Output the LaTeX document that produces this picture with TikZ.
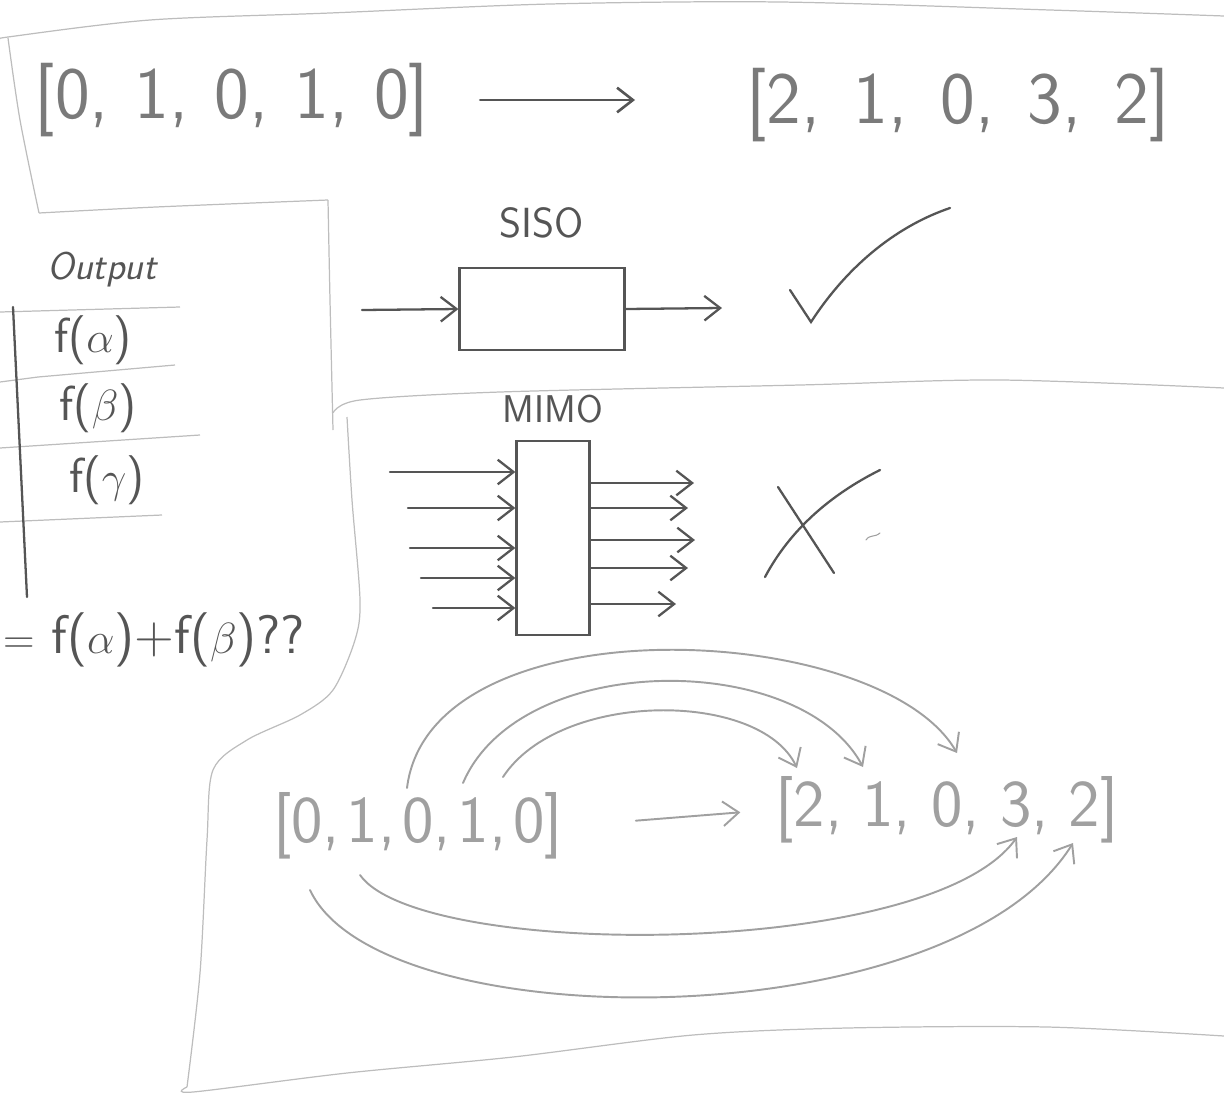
\documentclass[tikz,border=0pt]{standalone}
\usepackage{amsmath}
\usepackage{amssymb}
\usetikzlibrary{positioning,arrows.meta}
\definecolor{pencil}{HTML}{555555}
\definecolor{midpencil}{HTML}{7A7A7A}
\definecolor{lightpencil}{HTML}{A0A0A0}
\definecolor{edgegray}{HTML}{BDBDBD}
\newcommand{\gp}{\hspace{0.35em}}
\newcommand{\gpw}{\hspace{0.45em}}
\newcommand{\gpn}{\hspace{0.1em}}
\newcommand{\gpm}{\hspace{0.3em}}

\begin{document}
\begin{tikzpicture}[x=0.02cm, y=-0.02cm,
    pen/.style={line width=1.3pt, draw=pencil, line cap=round},
    faint/.style={line width=1.1pt, draw=lightpencil, line cap=round},
    edge/.style={line width=0.7pt, draw=edgegray},
    arr/.style={-{Straight Barb[length=9pt,width=14pt]}},
    blockbox/.style={draw=pencil, line width=1.3pt, inner sep=0pt},
    hand/.style={font=\sffamily\fontsize{42}{48}\selectfont, text=midpencil},
    smallhand/.style={font=\sffamily\fontsize{38}{44}\selectfont, text=lightpencil},
    tablehand/.style={font=\sffamily\fontsize{28}{32}\selectfont, text=pencil}]
\useasboundingbox (0,0) rectangle (1224,1096);

% Paper edges
\draw[edge] plot[smooth] coordinates {(0,40) (8,37) (150,20) (330,13) (550,4) (780,2) (1050,10) (1224,16)};
\draw[edge] plot[smooth] coordinates {(8,38) (20,120) (39,213)};
\draw[edge] plot[smooth] coordinates {(39,213) (156,207) (328,200)};
\draw[edge] plot[smooth] coordinates {(328,200) (330,300) (333,430)};
\draw[edge] plot[smooth] coordinates {(333,413) (360,400) (500,392) (800,385) (1000,380) (1224,388)};
\draw[edge] plot[smooth] coordinates {(347,417) (352,500) (360,600) (355,640) (333,690) (300,715) (247,740) (213,770) (207,840) (200,973) (187,1087)};
\draw[edge] plot[smooth] coordinates {(187,1087) (193,1092) (347,1073) (513,1057) (693,1035) (847,1028) (1047,1027) (1224,1036)};

% Top panel
\node[hand] (topin) at (232,100) {[0,\gp 1,\gp 0,\gp 1,\gp 0]};
\node[hand] (topout) at (958,105) {[2,\gpw 1,\gpw 0,\gpw 3,\gpw 2]};
\draw[pen, line width=1.5pt, arr, shorten <=0.9cm, shorten >=2.1cm] (topin.east) -- (topin.east -| topout.west);

% Output table
\node[tablehand, font=\sffamily\itshape\fontsize{22}{26}\selectfont] (outhead) at (102,270) {Output};
\node[tablehand] (fa) at (93,340) {f($\alpha$)};
\node[tablehand] (fb) at (98,408) {f($\beta$)};
\node[tablehand] (fc) at (107,480) {f($\gamma$)};
\draw[edge] (0,312) -- (180,307);
\draw[edge] (0,382) -- (38,377) -- (175,365);
\draw[edge] (0,448) -- (200,435);
\draw[edge] (0,522) -- (162,515);
\draw[pen] (13,307) -- (27,597);
\node[tablehand, font=\sffamily\fontsize{31}{36}\selectfont, anchor=west, inner sep=1pt] (sumq) at (1,640) {$=$ f($\alpha$)+f($\beta$)??};

% SISO
\node[blockbox, minimum width=3.3cm, minimum height=1.64cm] (siso) at (542,309) {};
\node[above=0.44cm of siso, font=\sffamily\fontsize{24}{28}\selectfont, text=pencil] (sisolabel) {SISO};
\coordinate (sisoin) at (362,310);
\coordinate (sisoout) at (722,308);
\draw[pen, arr] (sisoin) -- (siso.west);
\draw[pen, arr] (siso.east) -- (sisoout);
% check mark
\draw[pen] (790,290) -- (811,322) .. controls (850,262) and (900,225) .. (950,208);

% MIMO
\node[blockbox, minimum width=1.46cm, minimum height=3.88cm] (mimo) at (553,538) {};
\node[above=0.22cm of mimo, font=\sffamily\fontsize{22}{26}\selectfont, text=pencil] (mimolabel) {MIMO};
\foreach \i/\x/\y in {1/390/472, 2/408/508, 3/410/548, 4/421/578, 5/433/608} {
    \coordinate (in\i) at (\x,\y);
    \draw[pen, arr] (in\i) -- (in\i -| mimo.west);
}
\foreach \i/\x/\y in {1/694/483, 2/688/508, 3/695/540, 4/688/568, 5/676/604} {
    \coordinate (out\i) at (\x,\y);
    \draw[pen, arr] (out\i -| mimo.east) -- (out\i);
}
% cross
\draw[pen] (778,487) -- (834,573);
\draw[pen] (765,577) .. controls (790,530) and (830,495) .. (880,470);
\draw[faint, line width=0.6pt] (866,540) .. controls (870,534) and (874,538) .. (880,533);

% Bottom panel
\node[smallhand] (botin) at (418,826) {[0,\gpn 1,\gpn 0,\gpn 1,\gpn 0]};
\node[smallhand] (botout) at (947,810) {[2,\gpm 1,\gpm 0,\gpm 3,\gpm 2]};
\draw[faint, arr, shorten <=1.34cm, shorten >=0.58cm] (botin.east) -- (botout.west);

\coordinate (a1s) at (407,788); \coordinate (a1e) at (957,753);
\coordinate (a2s) at (463,783); \coordinate (a2e) at (863,767);
\coordinate (a3s) at (503,777); \coordinate (a3e) at (797,768);
\coordinate (b1s) at (360,875); \coordinate (b1e) at (1017,837);
\coordinate (b2s) at (310,890); \coordinate (b2e) at (1073,843);

% arcs above
\draw[faint, arr] (a1s) .. controls (430,600) and (880,620) .. (a1e);
\draw[faint, arr] (a2s) .. controls (520,650) and (800,650) .. (a2e);
\draw[faint, arr] (a3s) .. controls (560,690) and (760,690) .. (a3e);
% arcs below
\draw[faint, arr] (b1s) .. controls (420,960) and (930,960) .. (b1e);
\draw[faint, arr] (b2s) .. controls (380,1040) and (950,1040) .. (b2e);

\end{tikzpicture}
\end{document}
